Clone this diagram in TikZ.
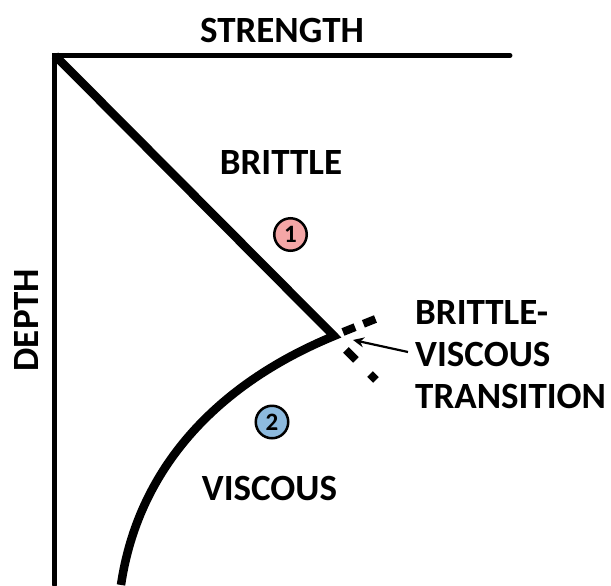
\documentclass[tikz,border=0pt]{standalone}
\usepackage{fontspec}
\setmainfont{Carlito}
\usetikzlibrary{arrows.meta,calc}
\usepackage{tkz-euclide}
\definecolor{BrittleClr}{HTML}{F4A6A6}
\definecolor{ViscousClr}{HTML}{8DBADE}

\begin{document}
\begin{tikzpicture}[scale=.3514598,
  zonetext/.style={font=\bfseries\fontsize{37}{42}\selectfont,inner sep=0pt},
  zonemark/.style={circle,draw,line width=2.5pt,minimum size=32.5pt,inner sep=0pt,
    font=\bfseries\fontsize{25}{28}\selectfont},
  transdash/.style={line width=8pt,line cap=butt}]
\useasboundingbox (0,0) rectangle (61.1,-58.5);

\tkzDefPoints{5.5/-5.55/O,51/-5.55/S,5.5/-58.5/D}
\tkzDefPoints{33.4/-33.6/V,12.1/-58.5/B}
\tkzDefPoints{21.5/-38.5/c1,13.8/-47/c2}

% dashed ends past the transition
\tkzDefPoints{34.3/-33.2/Ua,37.8/-31.8/Ub}
\tkzDefPoints{34.6/-35.0/La,37.6/-38.0/Lb}
\tkzDefPoint(35.3,-34.0){tip}

\tkzDrawPolySeg[line width=5pt,line join=miter,color=black](S,O,D)

\draw[line width=8.5pt,line join=miter] (O) -- (V) .. controls (c1) and (c2) .. (B);

\draw[transdash,dash pattern=on 13pt off 9pt] (Ua) -- (Ub);
\draw[transdash,dash pattern=on 14pt off 20pt] (La) -- (Lb);

\node[zonetext] (strength) at (28.2,-3.0) {STRENGTH};
\node[zonetext] (brittle) at (28.1,-16.2) {BRITTLE};
\node[zonetext] (viscous) at (26.95,-48.8) {VISCOUS};
\node[zonetext,rotate=90] (depth) at (2.7,-32.0) {DEPTH};
\node[zonetext,anchor=west,align=left] (trans) at (41.5,-35.5) {BRITTLE-\\VISCOUS\\TRANSITION};

\node[zonemark,fill=BrittleClr] (one) at (29.05,-23.45) {1};
\node[zonemark,fill=ViscousClr] (two) at (27.2,-42.2) {2};

\draw[line width=2.2pt,-{Stealth[length=11pt,width=10pt]}] ($(trans.west)+(-.7,.3)$) -- (tip);

\end{tikzpicture}
\end{document}
